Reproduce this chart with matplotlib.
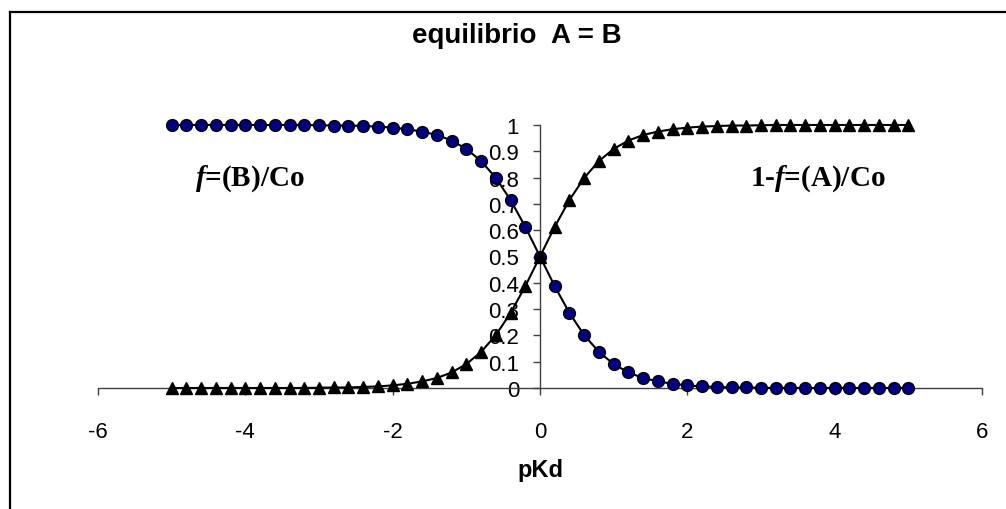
import matplotlib
matplotlib.use("Agg")
import matplotlib.pyplot as plt
from matplotlib.lines import Line2D

plt.rcParams["font.family"] = ["Liberation Sans", "DejaVu Sans"]
plt.rcParams["mathtext.fontset"] = "custom"
plt.rcParams["mathtext.it"] = "Liberation Serif:italic:bold"
plt.rcParams["mathtext.rm"] = "Liberation Serif:bold"

# pKd values
pkd = [-5.0, -4.8, -4.6, -4.4, -4.2, -4.0, -3.8, -3.6, -3.4, -3.2,
       -3.0, -2.8, -2.6, -2.4, -2.2, -2.0, -1.8, -1.6, -1.4, -1.2,
       -1.0, -0.8, -0.6, -0.4, -0.2, 0.0, 0.2, 0.4, 0.6, 0.8,
       1.0, 1.2, 1.4, 1.6, 1.8, 2.0, 2.2, 2.4, 2.6, 2.8,
       3.0, 3.2, 3.4, 3.6, 3.8, 4.0, 4.2, 4.4, 4.6, 4.8, 5.0]

# fraction f = (B)/Co
frac_b = [1.000, 1.000, 1.000, 1.000, 1.000, 1.000, 1.000, 1.000, 1.000, 1.000,
          0.999, 0.998, 0.998, 0.996, 0.994, 0.990, 0.984, 0.975, 0.962, 0.941,
          0.909, 0.863, 0.799, 0.715, 0.613, 0.500, 0.387, 0.285, 0.201, 0.137,
          0.091, 0.059, 0.038, 0.025, 0.016, 0.010, 0.006, 0.004, 0.002, 0.002,
          0.001, 0.000, 0.000, 0.000, 0.000, 0.000, 0.000, 0.000, 0.000, 0.000, 0.000]

# fraction 1 - f = (A)/Co
frac_a = [0.000, 0.000, 0.000, 0.000, 0.000, 0.000, 0.000, 0.000, 0.000, 0.000,
          0.001, 0.002, 0.002, 0.004, 0.006, 0.010, 0.016, 0.025, 0.038, 0.059,
          0.091, 0.137, 0.201, 0.285, 0.387, 0.500, 0.613, 0.715, 0.799, 0.863,
          0.909, 0.941, 0.962, 0.975, 0.984, 0.990, 0.994, 0.996, 0.998, 0.998,
          0.999, 1.000, 1.000, 1.000, 1.000, 1.000, 1.000, 1.000, 1.000, 1.000, 1.000]

x_ticks = [-6, -4, -2, 0, 2, 4, 6]
y_ticks = [0, 0.1, 0.2, 0.3, 0.4, 0.5, 0.6, 0.7, 0.8, 0.9, 1]
y_labels = ["0", "0.1", "0.2", "0.3", "0.4", "0.5", "0.6", "0.7", "0.8", "0.9", "1"]

W, H = 1006, 510
fig = plt.figure(figsize=(W / 100, H / 100), dpi=100)
ax = fig.add_axes([98 / W, 1 - 389 / H, 884 / W, 263 / H])

ax.plot(pkd, frac_b, color="black", lw=1.5, marker="o", ms=8.5,
        mfc="#000080", mec="black", mew=1.0, zorder=3, clip_on=False)
ax.plot(pkd, frac_a, color="black", lw=1.5, marker="^", ms=8.5,
        mfc="black", mec="black", zorder=3, clip_on=False)

ax.set_xlim(-6, 6)
ax.set_ylim(0, 1)
ax.spines["top"].set_visible(False)
ax.spines["right"].set_visible(False)
ax.spines["left"].set_position(("data", 0))
for s in ("left", "bottom"):
    ax.spines[s].set_color("#404040")
    ax.spines[s].set_linewidth(1.0)

ax.set_xticks(x_ticks)
ax.set_xticklabels([str(v) for v in x_ticks])
ax.set_yticks(y_ticks)
ax.set_yticklabels(y_labels)
ax.tick_params(axis="both", direction="out", length=5, width=1.0,
               color="#404040", labelsize=16)
ax.tick_params(axis="x", pad=19)
ax.tick_params(axis="y", pad=10)

ax.set_xlabel("pKd", fontsize=17, fontweight="bold", labelpad=11)

fig.text(517 / W, 1 - 36 / H, "equilibrio  A = B", ha="center", va="center",
         fontsize=20, fontweight="bold")

ax.text(-3.94, 0.80, r"$f$=(B)/Co", ha="center", va="center",
        fontsize=21, fontweight="bold", family="Liberation Serif")
ax.text(3.77, 0.80, r"1-$f$=(A)/Co", ha="center", va="center",
        fontsize=21, fontweight="bold", family="Liberation Serif")

# chart frame
fig.add_artist(Line2D([10 / W, 1.0], [1 - 13 / H, 1 - 13 / H],
                      color="black", lw=1.6, transform=fig.transFigure))
fig.add_artist(Line2D([10 / W, 10 / W], [0.0, 1 - 13 / H],
                      color="black", lw=1.6, transform=fig.transFigure))

fig.savefig("out.png", dpi=100)
